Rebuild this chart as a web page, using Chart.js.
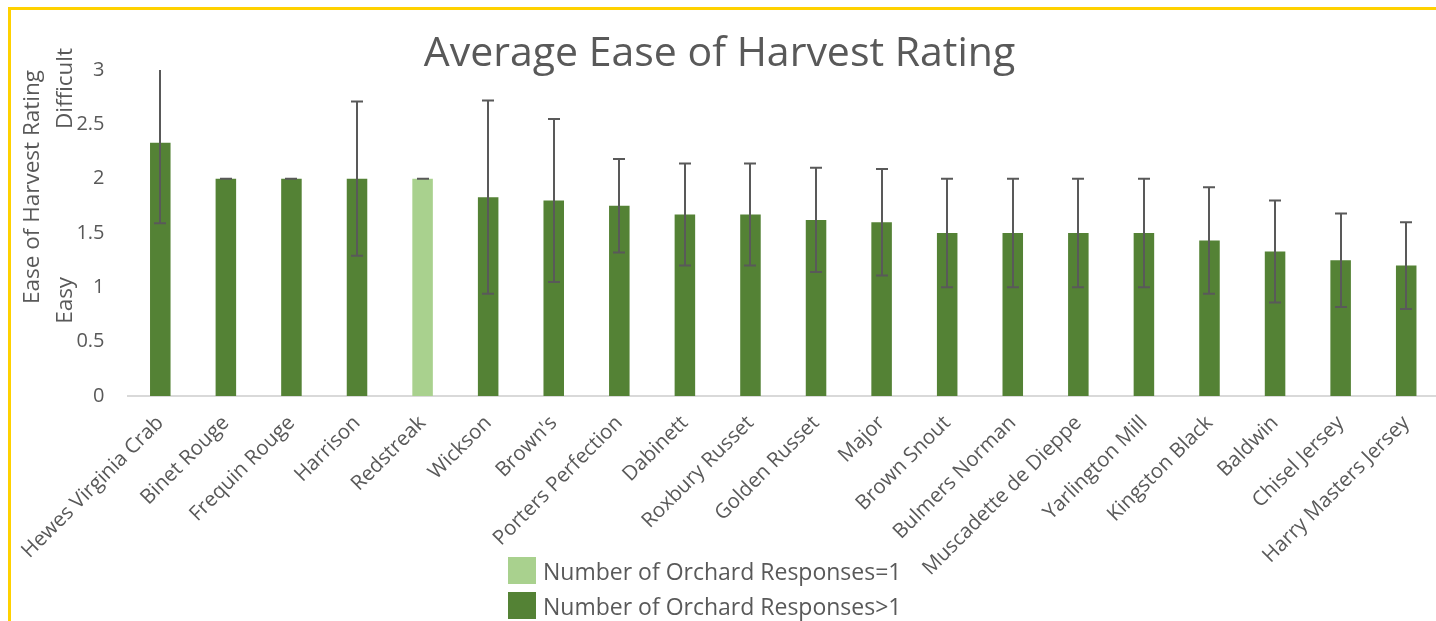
<!DOCTYPE html>
<html>
<head>
<meta charset="utf-8">
<script src="https://cdn.jsdelivr.net/npm/chart.js@4"></script>
<style>
  html, body { margin: 0; padding: 0; background: #fff; overflow: hidden; }
  body { width: 1436px; height: 621px; position: relative; font-family: "Open Sans", sans-serif; }
  #frame { position: absolute; left: 8px; top: 7px; width: 1500px; height: 700px;
           border-left: 3px solid #FFD100; border-top: 3px solid #FFD100; }
  #wrap { position: absolute; left: 0; top: 0; width: 1440px; height: 621px; }
  #legend { position: absolute; left: 508px; top: 553px; color: #595959; font-size: 23px; }
  #legend .item { display: flex; align-items: center; height: 35px; }
  #legend .box { width: 28px; height: 27px; margin-right: 7px; }
</style>
</head>
<body>
<div id="frame"></div>
<div id="wrap"><canvas id="chart" width="1440" height="621"></canvas></div>
<div id="legend"></div>
<script>
// Сорта яблок
const varieties = ['Hewes Virginia Crab', 'Binet Rouge', 'Frequin Rouge', 'Harrison', 'Redstreak',
  'Wickson', "Brown's", 'Porters Perfection', 'Dabinett', 'Roxbury Russet', 'Golden Russet', 'Major',
  'Brown Snout', 'Bulmers Norman', 'Muscadette de Dieppe', 'Yarlington Mill', 'Kingston Black',
  'Baldwin', 'Chisel Jersey', 'Harry Masters Jersey'];
// Средняя оценка
const avgRating = [2.33, 2, 2, 2, 2, 1.83, 1.8, 1.75, 1.67, 1.67, 1.62, 1.6,
  1.5, 1.5, 1.5, 1.5, 1.43, 1.33, 1.25, 1.2];
// Погрешность (стандартное отклонение)
const ratingErr = [0.74, 0, 0, 0.71, 0, 0.89, 0.75, 0.43, 0.47, 0.47, 0.48, 0.49,
  0.5, 0.5, 0.5, 0.5, 0.49, 0.47, 0.43, 0.4];
// Только один ответ сада
const singleResponse = [false, false, false, false, true, false, false, false, false, false,
  false, false, false, false, false, false, false, false, false, false];
const yTicks = [0, 0.5, 1, 1.5, 2, 2.5, 3];

const seriesNames = ['Number of Orchard Responses=1', 'Number of Orchard Responses>1'];
const seriesColors = ['#A9D18E', '#548235'];
const textColor = '#595959';
const fontFamily = '"Open Sans", sans-serif';

// Полосы погрешностей
const errorBars = {
  id: 'errorBars',
  afterDatasetsDraw(chart) {
    const ctx = chart.ctx;
    const y = chart.scales.y;
    const yMax = yTicks[yTicks.length - 1];
    ctx.save();
    ctx.strokeStyle = '#595959';
    ctx.lineWidth = 2;
    avgRating.forEach((v, i) => {
      const dsIndex = singleResponse[i] ? 0 : 1;
      const bar = chart.getDatasetMeta(dsIndex).data[i];
      const x = Math.round(bar.x);
      const hi = v + ratingErr[i];
      const top = y.getPixelForValue(Math.min(hi, yMax));
      const bottom = y.getPixelForValue(v - ratingErr[i]);
      ctx.beginPath();
      ctx.moveTo(x, top);
      ctx.lineTo(x, bottom);
      if (hi <= yMax) {
        ctx.moveTo(x - 6, top);
        ctx.lineTo(x + 6, top);
      }
      ctx.moveTo(x - 6, bottom);
      ctx.lineTo(x + 6, bottom);
      ctx.stroke();
    });
    ctx.restore();
  }
};

// Подписи оси Y
const yTitle = {
  id: 'yTitle',
  afterDraw(chart) {
    const ctx = chart.ctx;
    const area = chart.chartArea;
    const y = chart.scales.y;
    ctx.save();
    ctx.fillStyle = textColor;
    ctx.font = '22.5px ' + fontFamily;
    ctx.textAlign = 'center';
    ctx.textBaseline = 'middle';
    const put = (text, x, cy) => {
      ctx.save();
      ctx.translate(x, cy);
      ctx.rotate(-Math.PI / 2);
      ctx.fillText(text, 0, 0);
      ctx.restore();
    };
    put('Ease of Harvest Rating', area.left - 95, (area.top + area.bottom) / 2 - 46);
    put('Difficult', area.left - 62, y.getPixelForValue(2.83));
    put('Easy', area.left - 62, y.getPixelForValue(0.88));
    ctx.restore();
  }
};

const ctx = document.getElementById('chart').getContext('2d');
const chart = new Chart(ctx, {
  type: 'bar',
  data: {
    labels: varieties,
    datasets: [
      {
        label: seriesNames[0],
        data: avgRating.map((v, i) => singleResponse[i] ? v : null),
        backgroundColor: seriesColors[0]
      },
      {
        label: seriesNames[1],
        data: avgRating.map((v, i) => singleResponse[i] ? null : v),
        backgroundColor: seriesColors[1]
      }
    ]
  },
  options: {
    responsive: false,
    animation: false,
    layout: { padding: { left: 0, right: 1, top: 0, bottom: 0 } },
    datasets: { bar: { grouped: false, barPercentage: 0.313, categoryPercentage: 1 } },
    plugins: {
      legend: { display: false },
      tooltip: { enabled: false },
      title: {
        display: true,
        text: 'Average Ease of Harvest Rating',
        color: textColor,
        font: { family: fontFamily, size: 41, weight: 'normal', lineHeight: 1 },
        padding: { top: 34, bottom: -5 }
      }
    },
    scales: {
      x: {
        grid: { display: false, drawTicks: false },
        border: { color: '#D9D9D9', width: 2 },
        ticks: {
          color: textColor,
          font: { family: fontFamily, size: 20.5 },
          minRotation: 45,
          maxRotation: 45,
          autoSkip: false,
          padding: 15
        },
        afterFit(scale) { scale.height = 225; }
      },
      y: {
        min: 0,
        max: 3,
        grid: { display: false, drawTicks: false },
        border: { display: false },
        afterBuildTicks(scale) { scale.ticks = yTicks.map(v => ({ value: v })); },
        ticks: {
          color: textColor,
          font: { family: fontFamily, size: 20 },
          padding: 23,
          callback: v => String(v)
        },
        afterFit(scale) { scale.width = 127.5; }
      }
    }
  },
  plugins: [errorBars, yTitle]
});

// Легенда
const legend = document.getElementById('legend');
chart.data.datasets.forEach(ds => {
  const item = document.createElement('div');
  item.className = 'item';
  item.innerHTML = `<span class="box" style="background:${ds.backgroundColor}"></span><span>${ds.label}</span>`;
  legend.appendChild(item);
});
</script>
</body>
</html>
